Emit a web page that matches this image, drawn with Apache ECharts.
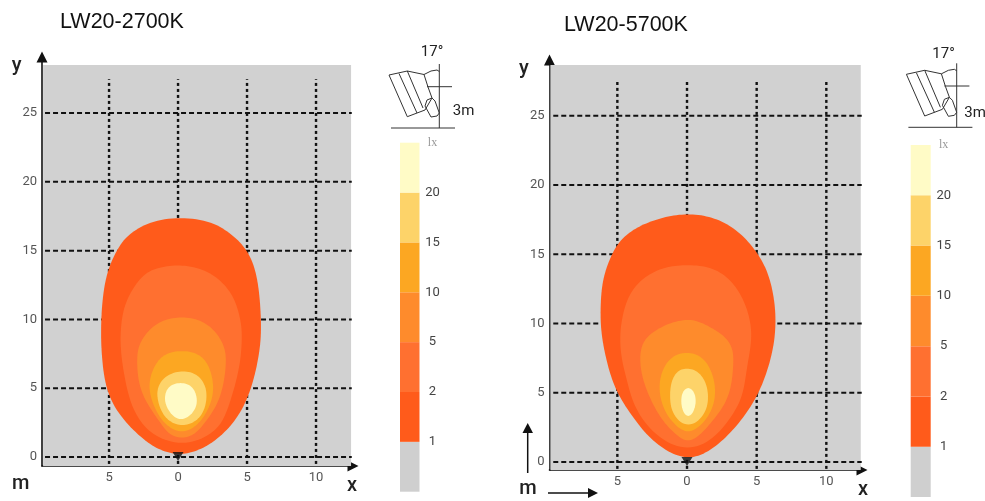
<!DOCTYPE html>
<html>
<head>
<meta charset="utf-8">
<style>html,body{margin:0;padding:0;background:#fff}#c{width:985px;height:501px}</style>
<script src="https://cdn.jsdelivr.net/npm/echarts@6/dist/echarts.min.js"></script>
</head>
<body>
<div id="c"></div>
<script>
const titles = ['LW20-2700K', 'LW20-5700K'];
const xTicks = [-5, 0, 5, 10];
const yTicks = [0, 5, 10, 15, 20, 25];
const legendLabels = ['', '1', '2', '5', '10', '15', '20', 'lx'];
const legendBands = [1, 1, 1, 1, 1, 1, 1];
const bandColors = ['#cfcfcf', '#ff5b1b', '#ff7030', '#fe8b2c', '#fca722', '#fdd369', '#fffbc6'];
const fieldColor = '#d1d1d1';
const lampPosition = [[0, 0.04]];

const warm1 = [[0.14,17.41],[2.46,17.08],[3.91,16.13],[5,15.04],[5.72,13.23],[5.98,10.68],[6.01,8.5],[5.65,6.32],[5,4.14],[3.91,2.33],[2.46,1.02],[1.2,0.4],[0.14,0.2],[-1,0.4],[-2.17,1.02],[-3.62,2.33],[-4.93,4.14],[-5.43,6.32],[-5.58,8.5],[-5.54,10.68],[-5.22,13.23],[-4.42,15.04],[-3.62,16.13],[-2.03,17.08]];
const warm2 = [[0.29,13.95],[1.96,13.59],[3.26,12.65],[4.13,11.41],[4.57,9.74],[4.62,8.5],[4.46,6.47],[3.77,4.0],[3.19,2.54],[2.25,1.6],[0.29,0.87],[-1.74,1.6],[-2.68,2.54],[-3.48,4.0],[-3.99,6.47],[-4.2,8.5],[-3.99,10.68],[-3.33,12.14],[-2.39,13.37],[-1.16,13.81]];
const warm5 = [[0.29,10.17],[1.59,9.96],[2.68,9.16],[3.33,8.07],[3.48,7.05],[3.33,5.45],[2.83,3.78],[1.96,2.54],[1.23,1.67],[0.29,1.38],[-0.65,1.67],[-1.3,2.54],[-2.32,4.0],[-2.86,5.45],[-2.97,7.05],[-2.83,8.14],[-2.17,9.16],[-1.09,9.96]];
const warm10 = [[0.27,7.73],[1.48,7.49],[2.2,6.69],[2.54,5.47],[2.49,4.27],[1.96,3.05],[1.23,2.2],[0.27,1.8],[-0.7,2.2],[-1.43,3.05],[-1.96,4.27],[-2.1,5.47],[-1.67,6.69],[-0.94,7.49]];
const warm15 = [[0.38,6.25],[1.36,6.01],[1.96,5.23],[2.08,4.27],[1.83,3.25],[1.23,2.57],[0.31,2.27],[-0.58,2.57],[-1.18,3.25],[-1.5,4.27],[-1.43,5.23],[-0.7,6.01]];
const warm20 = [[0.19,5.4],[0.99,5.18],[1.4,4.27],[1.18,3.29],[0.19,2.62],[-0.65,3.29],[-1.01,4.27],[-0.65,5.18]];

const cool1 = [[0.22,17.91],[1.78,17.67],[3.22,16.99],[4.41,15.91],[5.37,14.58],[5.97,13.14],[6.33,11.21],[6.33,9.17],[5.95,7.2],[5.2,5.08],[4.17,3.39],[2.97,1.95],[1.53,0.74],[0.09,0.25],[-1.35,0.74],[-2.78,1.83],[-3.98,3.39],[-5.06,5.08],[-5.7,7.0],[-6.14,9.17],[-6.21,10.97],[-6.09,12.9],[-5.66,14.35],[-5.0,15.75],[-3.98,16.7],[-2.78,17.3],[-1.35,17.75]];
const cool2 = [[-0.14,14.22],[1.53,14.1],[2.86,13.38],[3.81,12.18],[4.41,10.74],[4.65,9.17],[4.46,7.73],[4.22,6.28],[3.93,4.6],[3.09,3.16],[1.89,1.71],[0.05,0.87],[-1.94,1.71],[-3.26,3.16],[-3.98,4.6],[-4.4,6.28],[-4.7,7.49],[-4.82,9.17],[-4.58,10.74],[-4.1,12.18],[-3.02,13.38],[-1.58,14.06]];
const cool5 = [[0.09,10.3],[1.06,10.05],[2.59,9.2],[3.2,8.3],[3.33,7.51],[3.25,6.04],[2.85,4.35],[1.77,2.91],[0.93,1.95],[0.05,1.47],[-0.74,1.95],[-1.7,2.91],[-2.54,4.35],[-3.2,6.04],[-3.38,7.51],[-3.2,8.5],[-2.65,9.24],[-1.35,10.0]];
const cool10 = [[-0.02,7.92],[1.06,7.6],[1.78,6.52],[2.06,5.08],[1.78,3.75],[1.06,2.7],[0.05,2.09],[-0.86,2.7],[-1.58,3.63],[-2.01,5.08],[-1.82,6.52],[-1.1,7.6]];
const cool15 = [[-0.02,6.77],[0.81,6.52],[1.37,5.68],[1.53,4.6],[1.25,3.4],[0.09,2.51],[-1.0,3.4],[-1.22,4.6],[-1.15,5.68],[-0.74,6.52]];
const cool20 = [[0.09,5.39],[0.5,5.08],[0.65,4.35],[0.45,3.59],[0.09,3.27],[-0.27,3.59],[-0.43,4.35],[-0.31,5.08]];

const FONT = 'Roboto';
const panels = [
  { grid: {left: 42, top: 57, width: 311, height: 409}, x: [-9.86, 12.68], y: [-0.65, 29.07],
    field: [-9.78, -0.65, 12.54, 28.49], hSpan: [-9.64, 12.59], vSpan: [-0.5, 27.45],
    contours: [warm1, warm2, warm5, warm10, warm15, warm20] },
  { grid: {left: 549.5, top: 60, width: 312.5, height: 410}, x: [-9.87, 12.56], y: [-0.58, 29.03],
    field: [-9.8, -0.58, 12.47, 28.66], hSpan: [-9.6, 12.54], vSpan: [-0.5, 27.44],
    contours: [cool1, cool2, cool5, cool10, cool15, cool20] }
];
const legends = [
  {left: 400, top: 142.7, width: 19.5, height: 349, margin: 13},
  {left: 910.7, top: 145, width: 20, height: 352, margin: 13}
];

// Closed spline through the pixel positions of the read points, lightly eased (drawing only).
function closedSpline(p) {
  const n = p.length, out = [];
  for (let i = 0; i < n; i++) {
    const a = p[(i - 1 + n) % n], b = p[i], c = p[(i + 1) % n], d = p[(i + 2) % n];
    for (let s = 0; s < 8; s++) {
      const t = s / 8, t2 = t * t, t3 = t2 * t;
      out.push([0, 1].map(k => 0.5 * (2 * b[k] + (c[k] - a[k]) * t +
        (2 * a[k] - 5 * b[k] + 4 * c[k] - d[k]) * t2 + (3 * b[k] - a[k] - 3 * c[k] + d[k]) * t3)));
    }
  }
  const m = out.length, w = 5, eased = [];
  for (let i = 0; i < m; i++) {
    let sx = 0, sy = 0;
    for (let j = -w; j <= w; j++) {
      const q = out[(i + j + m) % m];
      sx += q[0]; sy += q[1];
    }
    eased.push([sx / (2 * w + 1), sy / (2 * w + 1)]);
  }
  return eased;
}

const grids = [], xAxes = [], yAxes = [], series = [];

panels.forEach((p, i) => {
  grids.push(p.grid);
  xAxes.push({
    type: 'value', gridIndex: i, min: p.x[0], max: p.x[1],
    axisLine: {show: true, onZero: false, lineStyle: {color: '#111', width: 1.6},
      symbol: ['none', 'triangle'], symbolSize: [11, 11]},
    axisTick: {show: false, customValues: xTicks},
    axisLabel: {customValues: xTicks, formatter: v => String(Math.abs(v)), margin: 5,
      fontFamily: FONT, fontSize: 13, color: '#555'},
    splitLine: {show: false}
  });
  yAxes.push({
    type: 'value', gridIndex: i, min: p.y[0], max: p.y[1],
    axisLine: {show: true, onZero: false, lineStyle: {color: '#111', width: 1.6},
      symbol: ['none', 'triangle'], symbolSize: [11, 11]},
    axisTick: {show: false, customValues: yTicks},
    axisLabel: {customValues: yTicks, margin: 5, fontFamily: FONT, fontSize: 13, color: '#555'},
    splitLine: {show: false}
  });
  const common = {xAxisIndex: i, yAxisIndex: i, silent: true};
  series.push(Object.assign({}, common, {
    type: 'custom', z: 1, data: [p.field], clip: false,
    renderItem: (params, api) => {
      const f = p.field, a = api.coord([f[0], f[3]]), b = api.coord([f[2], f[1]]);
      return {type: 'rect', shape: {x: a[0], y: a[1], width: b[0] - a[0], height: b[1] - a[1]},
        style: {fill: fieldColor}};
    }
  }));
  yTicks.forEach(v => series.push(Object.assign({}, common, {
    type: 'line', z: 2, showSymbol: false, data: [[p.hSpan[0], v], [p.hSpan[1], v]],
    lineStyle: {color: '#111', width: 2, type: [5, 3]}
  })));
  xTicks.forEach(v => series.push(Object.assign({}, common, {
    type: 'line', z: 2, showSymbol: false, data: [[v, p.vSpan[0]], [v, p.vSpan[1]]],
    lineStyle: {color: '#111', width: 2.4, type: [3, 3]}
  })));
  p.contours.forEach((pts, k) => series.push(Object.assign({}, common, {
    type: 'custom', z: 3 + k, data: pts, clip: false,
    renderItem: (params, api) => params.dataIndex === 0 ? {
      type: 'polygon',
      shape: {points: closedSpline(pts.map(q => api.coord(q)))},
      style: {fill: bandColors[k + 1]}
    } : null
  })));
  series.push(Object.assign({}, common, {
    type: 'scatter', z: 10, data: lampPosition, symbol: 'triangle', symbolRotate: 180,
    symbolSize: [11, 9], itemStyle: {color: '#111'}
  }));
});

legends.forEach((l, j) => {
  const i = panels.length + j;
  grids.push(l);
  xAxes.push({type: 'category', gridIndex: i, data: ['lx'], show: false});
  yAxes.push({
    type: 'value', gridIndex: i, position: 'right', min: 0, max: legendBands.length, interval: 1,
    axisLine: {show: false}, axisTick: {show: false}, splitLine: {show: false},
    axisLabel: {
      margin: l.margin, align: 'center', fontFamily: FONT, fontSize: 13, color: '#444',
      formatter: v => v === legendBands.length ? '{u|' + legendLabels[v] + '}' : legendLabels[v],
      rich: {u: {fontFamily: 'Liberation Serif', fontSize: 12, color: '#999'}}
    }
  });
  legendBands.forEach((b, k) => series.push({
    type: 'bar', xAxisIndex: i, yAxisIndex: i, stack: 'l' + j, barWidth: '100%', silent: true,
    data: [b], itemStyle: {color: bandColors[k]}
  }));
});

function icon(dx, dy, tx, ty) {
  const s = {stroke: '#333', lineWidth: 1, fill: null};
  const line = pts => ({type: 'polyline', shape: {points: pts.map(q => [q[0] + dx, q[1] + dy])}, style: s, silent: true});
  return [
    line([[391, 128], [455, 128]]),
    line([[439.3, 64], [439.3, 128]]),
    line([[427, 86.7], [452, 86.7]]),
    line([[389, 75], [407.3, 71], [424, 74.5], [428, 87], [432, 98], [425, 110], [407.3, 116.7], [389, 75]]),
    line([[399, 73.5], [417, 113]]),
    line([[407.3, 71], [423, 108]]),
    line([[424, 74.5], [431, 71], [437, 70], [439.3, 71.5]]),
    line([[425, 106], [427, 100], [432, 98], [435, 101], [439.3, 113], [437, 116], [431, 117], [425, 106]]),
    {type: 'text', x: 432 + tx, y: 52 + ty, silent: true, style: {text: '17°', font: '400 15px Roboto', fill: '#222', align: 'center', verticalAlign: 'middle'}},
    {type: 'text', x: 463.5 + tx, y: 111 + ty, silent: true, style: {text: '3m', font: '400 15px Roboto', fill: '#222', align: 'center', verticalAlign: 'middle'}}
  ];
}
const axisText = (t, x, y) => ({type: 'text', x, y, silent: true,
  style: {text: t, font: '500 20px Roboto', fill: '#222', align: 'center', verticalAlign: 'middle'}});
const arrowLine = (x1, y1, x2, y2) => ({type: 'line', shape: {x1, y1, x2, y2}, silent: true, style: {stroke: '#111', lineWidth: 1.5}});
const arrowHead = pts => ({type: 'polygon', shape: {points: pts}, silent: true, style: {fill: '#111'}});

const graphic = [].concat(
  icon(0, 0, 0, 0),
  icon(517.4, -0.7, 511.5, 1.8),
  [
    axisText('y', 16.7, 66), axisText('x', 352, 486), axisText('m', 20.7, 484),
    axisText('y', 524, 69), axisText('x', 863, 490), axisText('m', 528, 489),
    arrowLine(527.7, 473, 527.7, 430),
    arrowHead([[527.7, 423], [522.5, 433], [533, 433]]),
    arrowLine(548, 493, 590, 493),
    arrowHead([[598, 493], [588, 488], [588, 498]])
  ]
);

const chart = echarts.init(document.getElementById('c'), null, {renderer: 'canvas'});
chart.setOption({
  animation: false,
  backgroundColor: '#fff',
  title: [
    {text: titles[0], left: 60, top: 11, padding: 0, textStyle: {fontFamily: 'Liberation Sans', fontWeight: 'normal', fontSize: 21.5, color: '#111'}},
    {text: titles[1], left: 564, top: 14, padding: 0, textStyle: {fontFamily: 'Liberation Sans', fontWeight: 'normal', fontSize: 21.5, color: '#111'}}
  ],
  tooltip: {show: false},
  grid: grids,
  xAxis: xAxes,
  yAxis: yAxes,
  series: series,
  graphic: graphic
});
</script>
</body>
</html>
